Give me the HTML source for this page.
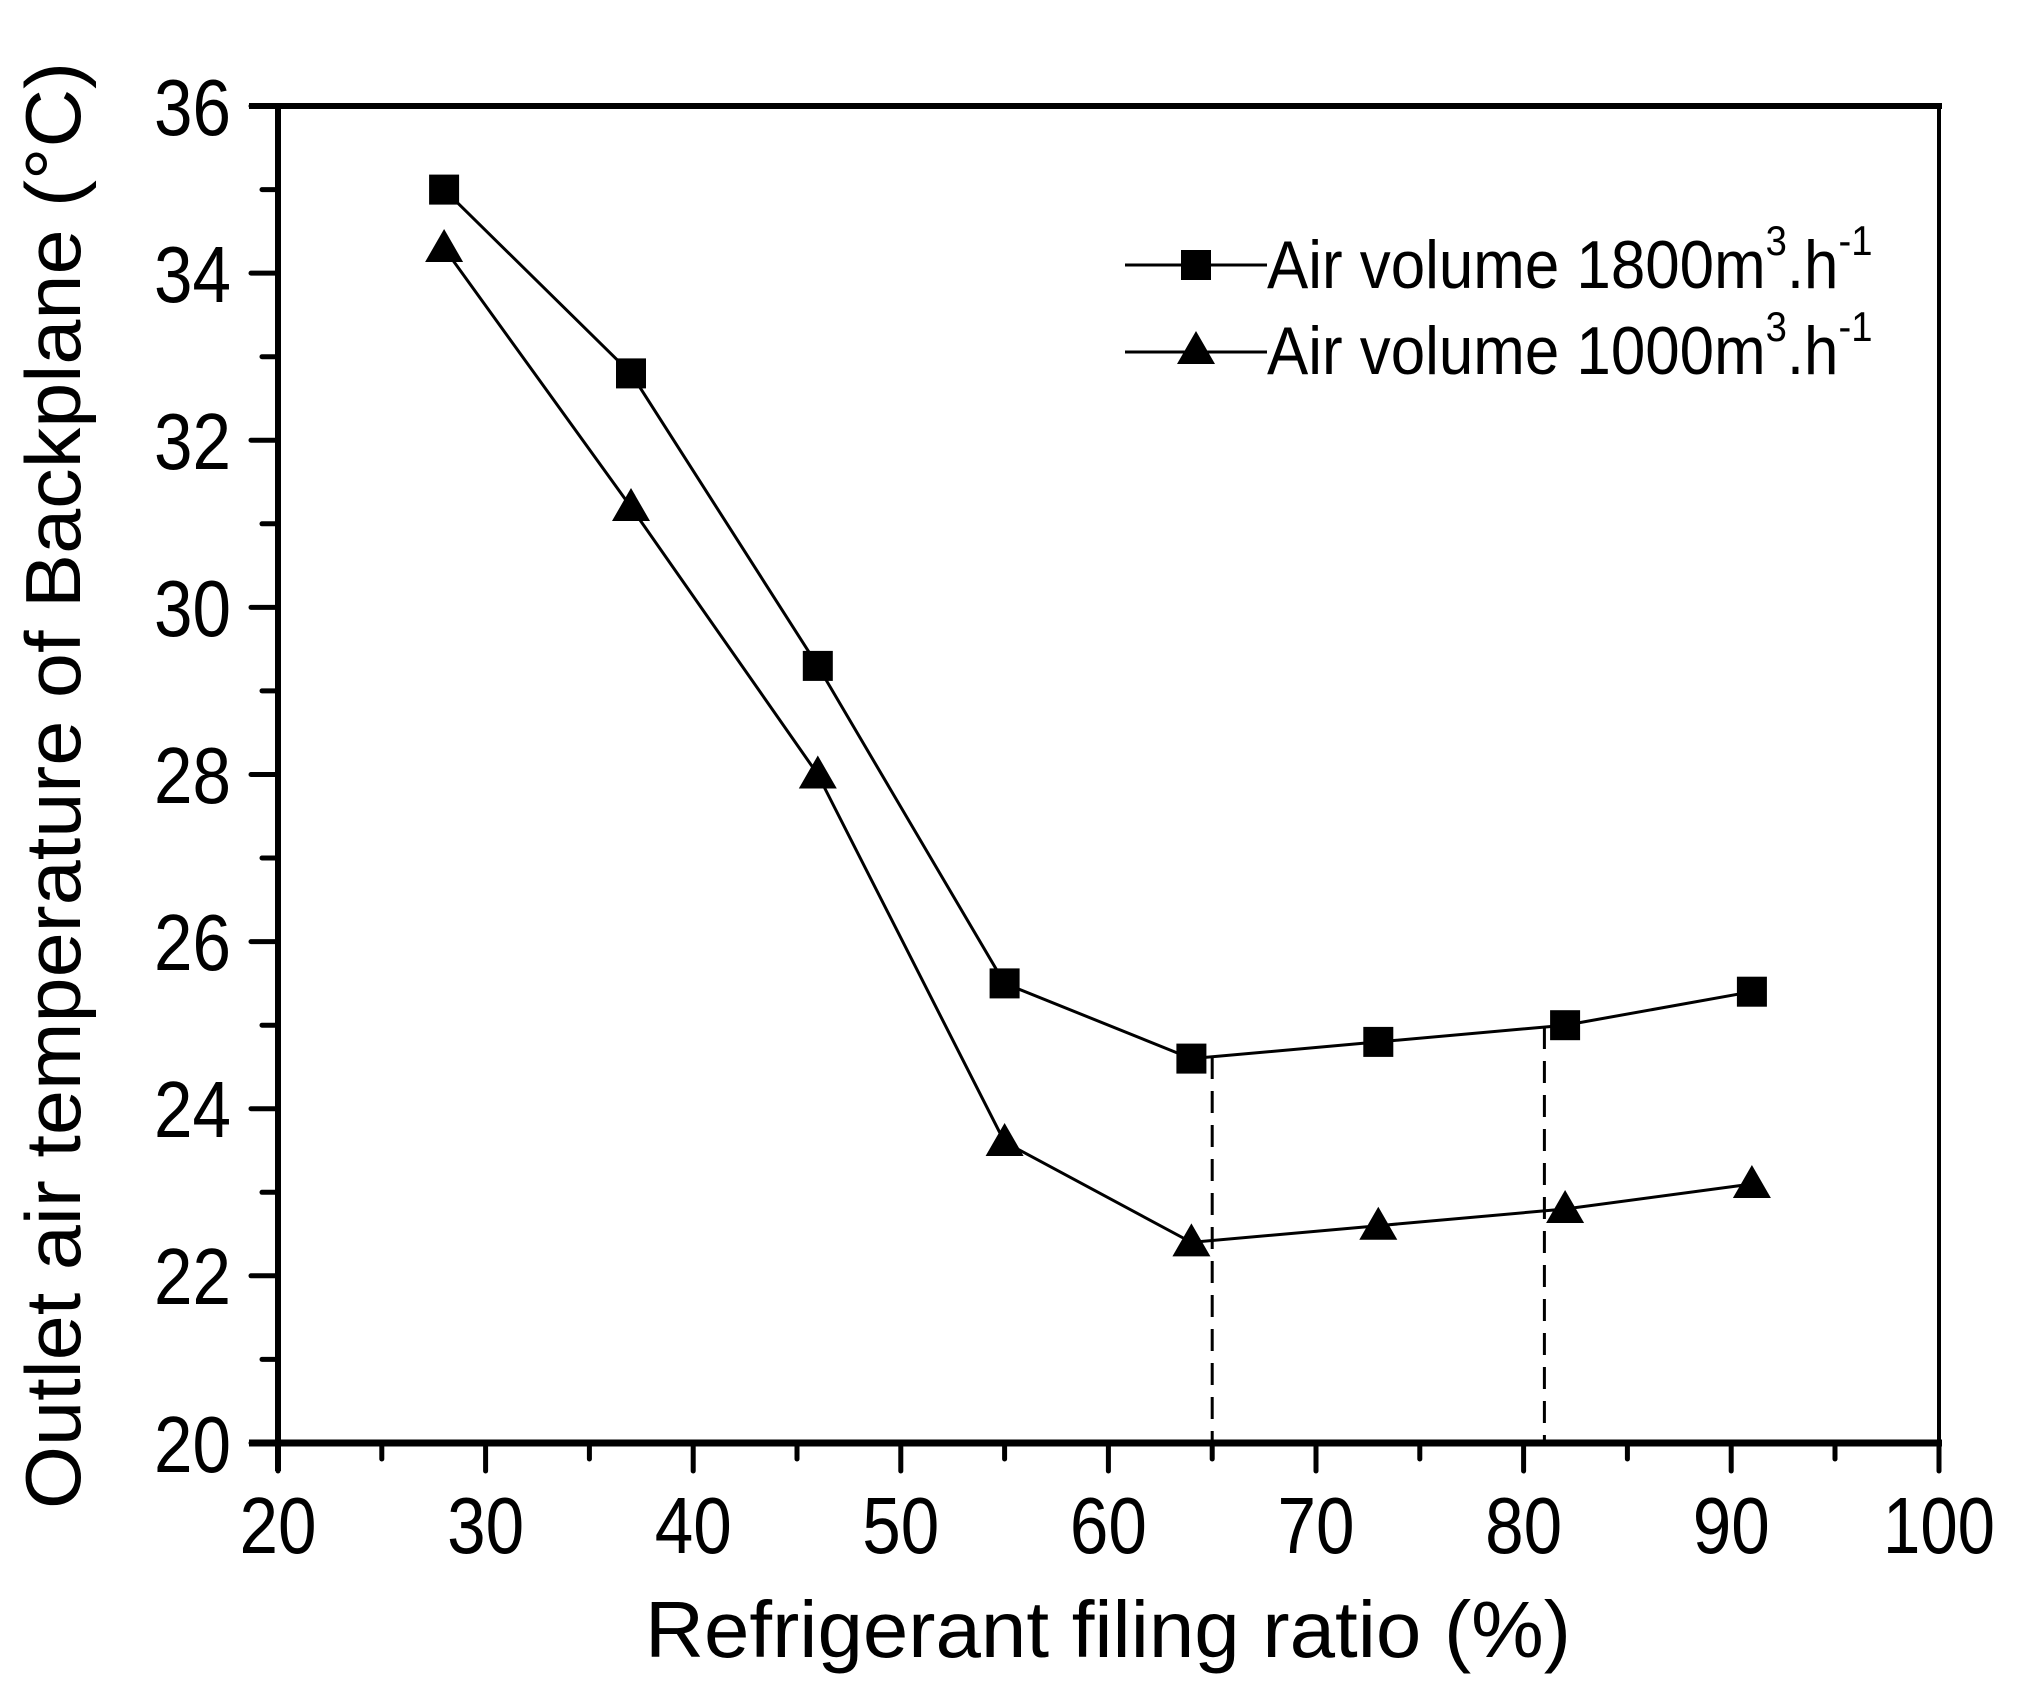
<!DOCTYPE html>
<html><head><meta charset="utf-8"><style>
html,body{margin:0;padding:0;background:#fff;}
svg{display:block;}
text{font-family:"Liberation Sans",Arial,sans-serif;fill:#000;}
</style></head><body>
<svg width="2023" height="1706" viewBox="0 0 2023 1706" xmlns="http://www.w3.org/2000/svg">
<rect width="2023" height="1706" fill="#fff"/>
<line x1="249" y1="106" x2="1942" y2="106" stroke="#000" stroke-width="6"/>
<line x1="278" y1="103" x2="278" y2="1471" stroke="#000" stroke-width="6"/>
<line x1="1939" y1="103" x2="1939" y2="1471" stroke="#000" stroke-width="4"/>
<line x1="249" y1="1443" x2="1942" y2="1443" stroke="#000" stroke-width="7"/>
<g stroke="#000" stroke-width="5" stroke-linecap="round">
<line x1="251" y1="106" x2="278" y2="106"/>
<line x1="262" y1="189.6" x2="278" y2="189.6"/>
<line x1="251" y1="273.1" x2="278" y2="273.1"/>
<line x1="262" y1="356.7" x2="278" y2="356.7"/>
<line x1="251" y1="440.2" x2="278" y2="440.2"/>
<line x1="262" y1="523.8" x2="278" y2="523.8"/>
<line x1="251" y1="607.4" x2="278" y2="607.4"/>
<line x1="262" y1="690.9" x2="278" y2="690.9"/>
<line x1="251" y1="774.5" x2="278" y2="774.5"/>
<line x1="262" y1="858" x2="278" y2="858"/>
<line x1="251" y1="941.6" x2="278" y2="941.6"/>
<line x1="262" y1="1025.2" x2="278" y2="1025.2"/>
<line x1="251" y1="1108.7" x2="278" y2="1108.7"/>
<line x1="262" y1="1192.3" x2="278" y2="1192.3"/>
<line x1="251" y1="1275.8" x2="278" y2="1275.8"/>
<line x1="262" y1="1359.4" x2="278" y2="1359.4"/>
<line x1="251" y1="1443" x2="278" y2="1443"/>
</g>
<g stroke="#000" stroke-width="5" stroke-linecap="round">
<line x1="278" y1="1443" x2="278" y2="1471"/>
<line x1="381.8" y1="1443" x2="381.8" y2="1459"/>
<line x1="485.6" y1="1443" x2="485.6" y2="1471"/>
<line x1="589.4" y1="1443" x2="589.4" y2="1459"/>
<line x1="693.2" y1="1443" x2="693.2" y2="1471"/>
<line x1="797" y1="1443" x2="797" y2="1459"/>
<line x1="900.8" y1="1443" x2="900.8" y2="1471"/>
<line x1="1004.6" y1="1443" x2="1004.6" y2="1459"/>
<line x1="1108.4" y1="1443" x2="1108.4" y2="1471"/>
<line x1="1212.2" y1="1443" x2="1212.2" y2="1459"/>
<line x1="1316" y1="1443" x2="1316" y2="1471"/>
<line x1="1419.8" y1="1443" x2="1419.8" y2="1459"/>
<line x1="1523.6" y1="1443" x2="1523.6" y2="1471"/>
<line x1="1627.4" y1="1443" x2="1627.4" y2="1459"/>
<line x1="1731.2" y1="1443" x2="1731.2" y2="1471"/>
<line x1="1835" y1="1443" x2="1835" y2="1459"/>
<line x1="1939" y1="1443" x2="1939" y2="1471"/>
</g>
<g font-size="80" text-anchor="end" lengthAdjust="spacingAndGlyphs">
<text x="231" y="135" textLength="77" lengthAdjust="spacingAndGlyphs">36</text>
<text x="231" y="302" textLength="77" lengthAdjust="spacingAndGlyphs">34</text>
<text x="231" y="469" textLength="77" lengthAdjust="spacingAndGlyphs">32</text>
<text x="231" y="636" textLength="77" lengthAdjust="spacingAndGlyphs">30</text>
<text x="231" y="803" textLength="77" lengthAdjust="spacingAndGlyphs">28</text>
<text x="231" y="970" textLength="77" lengthAdjust="spacingAndGlyphs">26</text>
<text x="231" y="1137" textLength="77" lengthAdjust="spacingAndGlyphs">24</text>
<text x="231" y="1304" textLength="77" lengthAdjust="spacingAndGlyphs">22</text>
<text x="231" y="1472" textLength="77" lengthAdjust="spacingAndGlyphs">20</text>
</g>
<g font-size="80" text-anchor="middle">
<text x="278" y="1553" textLength="77" lengthAdjust="spacingAndGlyphs">20</text>
<text x="485.6" y="1553" textLength="77" lengthAdjust="spacingAndGlyphs">30</text>
<text x="693.2" y="1553" textLength="77" lengthAdjust="spacingAndGlyphs">40</text>
<text x="900.8" y="1553" textLength="77" lengthAdjust="spacingAndGlyphs">50</text>
<text x="1108.4" y="1553" textLength="77" lengthAdjust="spacingAndGlyphs">60</text>
<text x="1316" y="1553" textLength="77" lengthAdjust="spacingAndGlyphs">70</text>
<text x="1523.6" y="1553" textLength="77" lengthAdjust="spacingAndGlyphs">80</text>
<text x="1731.2" y="1553" textLength="77" lengthAdjust="spacingAndGlyphs">90</text>
<text x="1939" y="1553" textLength="112" lengthAdjust="spacingAndGlyphs">100</text>
</g>
<text x="645" y="1657" font-size="80" textLength="926" lengthAdjust="spacingAndGlyphs">Refrigerant filing ratio (%)</text>
<text transform="translate(80,1509) rotate(-90)" font-size="78" textLength="1447" lengthAdjust="spacingAndGlyphs">Outlet air temperature of  Backplane (°C)</text>
<g stroke="#000" stroke-width="3" stroke-dasharray="22,12">
<line x1="1212.2" y1="1057" x2="1212.2" y2="1440"/>
<line x1="1544.4" y1="1027" x2="1544.4" y2="1440"/>
</g>
<polyline fill="none" stroke="#000" stroke-width="3" points="444.1,189.6 631,373.4 817.8,665.9 1004.6,983.4 1191.4,1058.6 1378.3,1041.9 1565.1,1025.2 1751.9,991.7"/>
<polyline fill="none" stroke="#000" stroke-width="3" points="444.1,248.1 631,507.1 817.8,774.5 1004.6,1142.1 1191.4,1242.4 1378.3,1225.7 1565.1,1209 1751.9,1184"/>
<g fill="#000">
<rect x="429.1" y="174.6" width="30" height="30"/>
<rect x="616" y="358.4" width="30" height="30"/>
<rect x="802.8" y="650.9" width="30" height="30"/>
<rect x="989.6" y="968.4" width="30" height="30"/>
<rect x="1176.4" y="1043.6" width="30" height="30"/>
<rect x="1363.3" y="1026.9" width="30" height="30"/>
<rect x="1550.1" y="1010.2" width="30" height="30"/>
<rect x="1736.9" y="976.7" width="30" height="30"/>
</g>
<g fill="#000">
<polygon points="444.1,229 425.1,262 463.1,262"/>
<polygon points="631,488 612,521 650,521"/>
<polygon points="817.8,755.5 798.8,788.5 836.8,788.5"/>
<polygon points="1004.6,1123 985.6,1156 1023.6,1156"/>
<polygon points="1191.4,1223.4 1172.4,1256.4 1210.4,1256.4"/>
<polygon points="1378.3,1206.7 1359.3,1239.7 1397.3,1239.7"/>
<polygon points="1565.1,1190 1546.1,1223 1584.1,1223"/>
<polygon points="1751.9,1165 1732.9,1198 1770.9,1198"/>
</g>
<line x1="1125" y1="265" x2="1267" y2="265" stroke="#000" stroke-width="3"/>
<rect x="1181" y="250" width="30" height="30" fill="#000"/>
<text transform="translate(1267,288) scale(0.91,1)" font-size="68">Air volume 1800m<tspan font-size="42" dy="-33">3</tspan><tspan dy="33">.h</tspan><tspan font-size="42" dy="-33">-1</tspan></text>
<line x1="1125" y1="352" x2="1267" y2="352" stroke="#000" stroke-width="3"/>
<polygon points="1196,331 1177,364 1215,364" fill="#000"/>
<text transform="translate(1267,374) scale(0.91,1)" font-size="68">Air volume 1000m<tspan font-size="42" dy="-33">3</tspan><tspan dy="33">.h</tspan><tspan font-size="42" dy="-33">-1</tspan></text>
</svg>
</body></html>
